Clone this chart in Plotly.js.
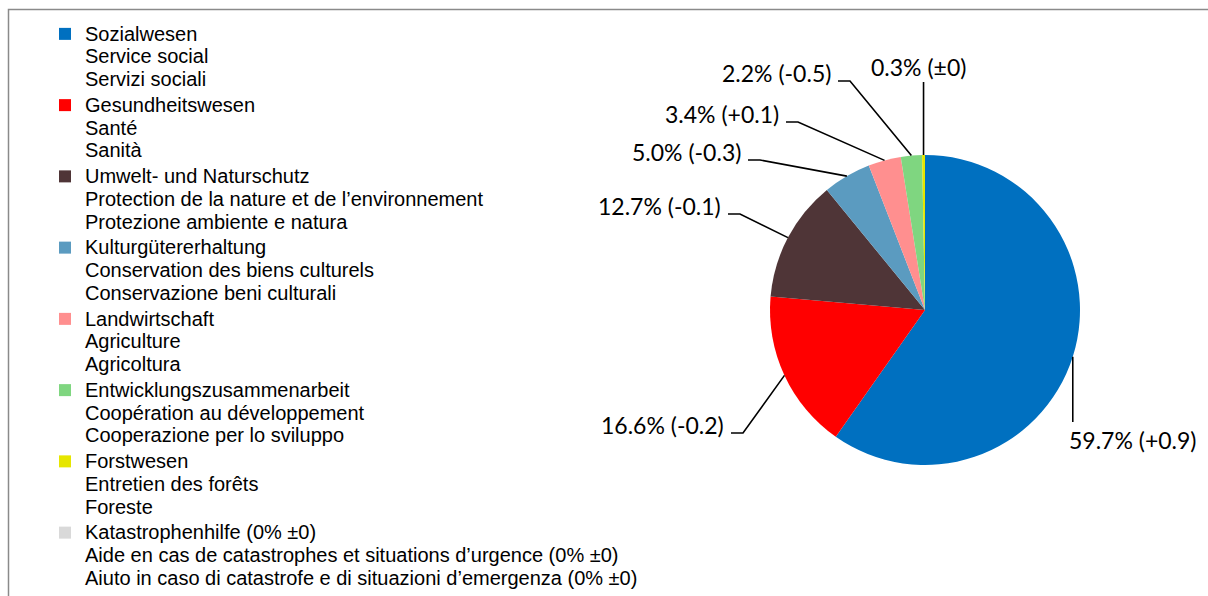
<!DOCTYPE html>
<html><head><meta charset="utf-8">
<script src="https://cdn.plot.ly/plotly-3.0.1.min.js"></script>
<style>html,body{margin:0;padding:0;background:#fff}#chart{width:1208px;height:596px}</style>
</head><body><div id="chart"></div>
<script>
// ---- data ----
const categories = [
  ["Sozialwesen", "Service social", "Servizi sociali"],
  ["Gesundheitswesen", "Santé", "Sanità"],
  ["Umwelt- und Naturschutz", "Protection de la nature et de l’environnement", "Protezione ambiente e natura"],
  ["Kulturgütererhaltung", "Conservation des biens culturels", "Conservazione beni culturali"],
  ["Landwirtschaft", "Agriculture", "Agricoltura"],
  ["Entwicklungszusammenarbeit", "Coopération au développement", "Cooperazione per lo sviluppo"],
  ["Forstwesen", "Entretien des forêts", "Foreste"],
  ["Katastrophenhilfe (0% ±0)", "Aide en cas de catastrophes et situations d’urgence (0% ±0)", "Aiuto in caso di catastrofe e di situazioni d’emergenza (0% ±0)"]
];
const shares = [59.7, 16.6, 12.7, 5.0, 3.4, 2.2, 0.3, 0];
const changes = ["+0.9", "-0.2", "-0.1", "-0.3", "+0.1", "-0.5", "±0", "±0"];
const colors = ["#0070C0", "#FF0000", "#4F3537", "#5B9BC0", "#FF8F8F", "#7FD680", "#E6E600", "#D9D9D9"];

// ---- layout (pixels) ----
const W = 1208, H = 596;
const CX = 925, CY = 310, R = 155;
// label anchor positions: [x, y, xanchor, leader style]
const labelPlace = [
  [1067, 440, "left", "down"],
  [726, 425, "right", "side"],
  [723, 206, "right", "side"],
  [743, 152, "right", "side"],
  [781, 114, "right", "side"],
  [833, 73, "right", "side"],
  [918, 67, "center", "up"],
  null
];
const px = x => x / W, py = y => 1 - y / H;

const total = shares.reduce((a, b) => a + b, 0);
const annotations = [], shapes = [];
let cum = 0;
shares.forEach((v, i) => {
  const a0 = cum / total * 2 * Math.PI;
  cum += v;
  const a1 = cum / total * 2 * Math.PI;
  const lp = labelPlace[i];
  if (!lp || v <= 0) return;
  const mid = (a0 + a1) / 2;
  const ex = CX + R * Math.sin(mid), ey = CY - R * Math.cos(mid);
  const [lx, ly, xa, style] = lp;
  annotations.push({
    xref: "paper", yref: "paper", x: px(lx), y: py(ly), xanchor: xa, yanchor: "middle",
    text: v.toFixed(1) + "% (" + changes[i] + ")", showarrow: false,
    font: {family: "Lato, 'Open Sans', sans-serif", size: 23, color: "#000"}
  });
  let pts;
  if (style === "side") {
    pts = [[ex, ey], [lx + 17, ly + 8], [lx + 5, ly + 8]];
  } else if (style === "down") {
    pts = [[ex, ey], [ex, ly - 18]];
  } else {
    pts = [[ex, ey], [ex, ly + 15]];
  }
  const path = pts.map((p, k) => (k ? "L" : "M") + px(p[0]) + "," + py(p[1])).join(" ");
  shapes.push({type: "path", xref: "paper", yref: "paper", path: path, line: {color: "#000", width: 1.6}});
});
// outer frame
shapes.push({type: "rect", xref: "paper", yref: "paper", x0: px(8.5), x1: 1.05, y0: -0.05, y1: py(9.5),
  line: {color: "#8a8a8a", width: 1.5}, fillcolor: "rgba(0,0,0,0)"});

const legendLabels = categories.map(lines =>
  lines.map(l => '<span style="font-size:20px">' + l + '</span>').join("<br>"));

const trace = {
  type: "pie",
  labels: legendLabels,
  values: shares,
  marker: {colors: colors, line: {width: 0}},
  sort: false,
  direction: "clockwise",
  rotation: 0,
  textinfo: "none",
  hoverinfo: "skip",
  domain: {x: [px(CX - R), px(CX + R)], y: [py(CY + R), py(CY - R)]}
};

const layout = {
  width: W, height: H,
  margin: {l: 0, r: 0, t: 0, b: 0, autoexpand: false},
  paper_bgcolor: "#fff",
  showlegend: true,
  legend: {
    x: px(45), y: py(16), xanchor: "left", yanchor: "top",
    valign: "top", traceorder: "normal",
    font: {family: "'Liberation Sans', Arial, sans-serif", size: 17.5, color: "#000"},
    bgcolor: "rgba(0,0,0,0)", borderwidth: 0
  },
  annotations: annotations,
  shapes: shapes
};

Plotly.newPlot("chart", [trace], layout, {staticPlot: true});
</script>
</body></html>
